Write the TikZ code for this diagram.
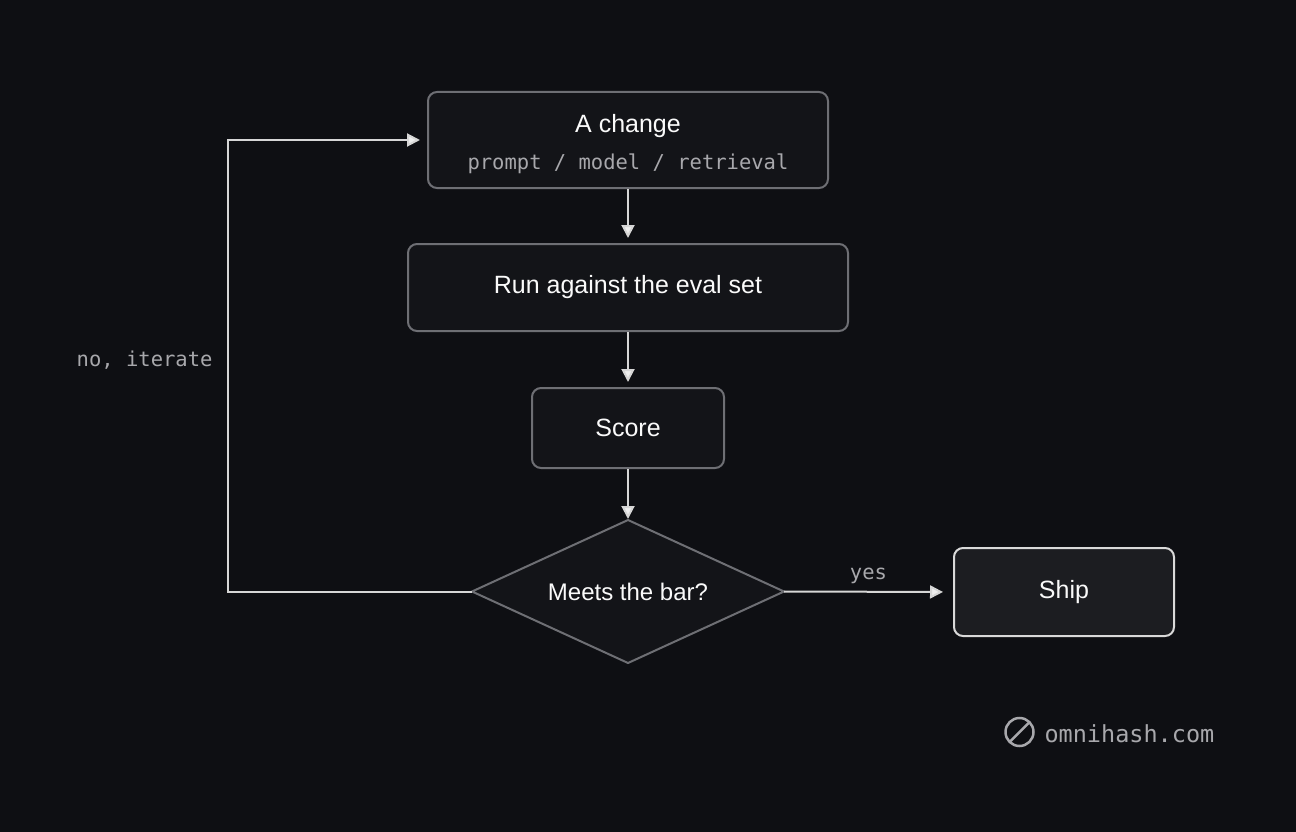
\documentclass[tikz,border=0pt]{standalone}
\usepackage{fontspec}
\setmainfont{Liberation Sans}
\newfontfamily\monof{DejaVu Sans Mono}
\usetikzlibrary{arrows.meta,shapes.geometric}
\definecolor{bg}{HTML}{0E0F13}
\definecolor{boxfill}{HTML}{131418}
\definecolor{boxline}{HTML}{6E6F74}
\definecolor{shipfill}{HTML}{1C1D21}
\definecolor{txt}{HTML}{FAFAFA}
\definecolor{subtxt}{HTML}{A8A8AC}
\definecolor{arr}{HTML}{EEEEEE}
\tikzset{
  box/.style={draw=boxline,line width=2pt,fill=boxfill,rounded corners=9pt,text=txt,font=\fontsize{25}{29}\selectfont,align=center,inner sep=0pt},
  conn/.style={draw=arr!90!black,line width=2pt,shorten >=5pt,-{Triangle[length=13pt,width=13pt,fill=arr]}},
  lbl/.style={text=subtxt,font=\monof\fontsize{20.5}{24}\selectfont}
}
\begin{document}
\begin{tikzpicture}[x=1pt,y=-1pt]
\fill[bg] (0,0) rectangle (1296,832);
\useasboundingbox (0,0) rectangle (1296,832);
\node[box,minimum width=400pt,minimum height=96pt] (a) at (628,140) {};
\node[text=txt,font=\fontsize{25}{29}\selectfont] (at) at (628,126) {A change};
\node[lbl] (as) at (628,164) {prompt / model / retrieval};
\node[box,minimum width=440pt,minimum height=87pt] (r) at (628,287.5) {Run against the eval set};
\node[box,minimum width=192pt,minimum height=80pt] (s) at (628,428) {Score};
\coordinate (dn) at (628,520);
\coordinate (de) at (784,591.5);
\coordinate (ds) at (628,663);
\coordinate (dw) at (472,591.5);
\draw[boxline,line width=2pt,fill=boxfill,line join=miter] (dn) -- (de) -- (ds) -- (dw) -- cycle;
\node[text=txt,font=\fontsize{24}{28}\selectfont] (d) at (628,591.5) {Meets the bar?};
\node[box,draw=white!85!black,fill=shipfill,minimum width=220pt,minimum height=88pt] (ship) at (1064,592) {Ship};
\coordinate (c1) at (228,591.5);
\coordinate (c2) at (228,140);
\draw[conn] (a) -- (r);
\draw[conn] (r) -- (s);
\draw[conn,shorten >=1pt] (s) -- (dn);
\draw[conn,shorten >=10pt] (de) -- node[lbl,above=4pt] (yes) {yes} (ship.west);
\draw[conn,shorten >=7pt] (dw) -- (c1) -- (c2) -- (a.west);
\node[lbl,anchor=east] (no) at (216,360) {no, iterate};
\draw[subtxt,line width=2.5pt] (1019.5,732) circle (14pt);
\draw[subtxt,line width=2.5pt] (1009.5,742) -- (1029.5,722);
\node[lbl,anchor=west,font=\monof\fontsize{23.5}{27}\selectfont] (logo) at (1041,734) {omnihash.com};
\end{tikzpicture}
\end{document}
